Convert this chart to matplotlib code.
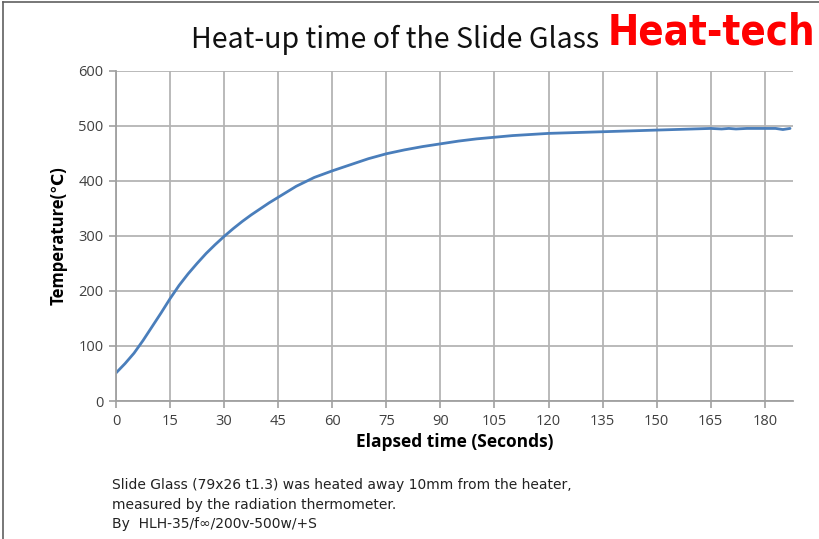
import matplotlib
matplotlib.use("Agg")
import matplotlib.pyplot as plt
from matplotlib.lines import Line2D

time_s = [0, 2.5, 5, 7.5, 10, 12.5, 15, 17.5, 20, 22.5, 25, 27.5, 30, 32.5, 35, 37.5,
          40, 42.5, 45, 47.5, 50, 52.5, 55, 57.5, 60, 65, 70, 75, 80, 85, 90, 95, 100,
          105, 110, 115, 120, 125, 130, 135, 140, 145, 150, 155, 160, 165, 168, 170,
          172, 175, 180, 183, 185, 187]
temp_c = [51, 68, 87, 110, 135, 160, 186, 210, 231, 250, 268, 284, 299, 313, 326, 338,
          349, 360, 370, 380, 390, 398, 406, 412, 418, 429, 440, 449, 456, 462, 467, 472,
          476, 479, 482, 484, 486, 487, 488, 489, 490, 491, 492, 493, 494, 495, 494, 495,
          494, 495, 495, 495, 493, 495]
x_ticks = list(range(0, 181, 15))
y_ticks = list(range(0, 601, 100))

title = "Heat-up time of the Slide Glass"
brand = "Heat-tech"
x_label = "Elapsed time (Seconds)"
y_label = "Temperature(℃)"
caption = ["Slide Glass (79x26 t1.3) was heated away 10mm from the heater,",
           "measured by the radiation thermometer.",
           "By  HLH-35/f∞/200v-500w/+S"]

fig = plt.figure(figsize=(8.2, 5.39), dpi=100)
ax = fig.add_axes([0.1415, 0.256, 0.967 - 0.1415, 0.869 - 0.256])

ax.plot(time_s, temp_c, color="#4a7ebb", lw=2.0, solid_capstyle="round")
ax.set_xlim(0, 187.8)
ax.set_ylim(0, 600)
ax.set_xticks(x_ticks)
ax.set_yticks(y_ticks)
ax.grid(True, color="#b4b4b4", lw=1.3)
ax.set_axisbelow(True)
for s in ["top", "right"]:
    ax.spines[s].set_visible(False)
for s in ["left", "bottom"]:
    ax.spines[s].set_color("#a0a0a0")
    ax.spines[s].set_linewidth(1.3)
ax.tick_params(axis="both", colors="#a0a0a0", length=5, width=1.2, labelsize=10.5,
               labelcolor="#404040", pad=4)
for lab in ax.get_xticklabels() + ax.get_yticklabels():
    lab.set_family(["Open Sans", "DejaVu Sans"])

ax.set_xlabel(x_label, fontsize=12.5, fontweight="bold", color="black",
              family=["Open Sans", "DejaVu Sans"], labelpad=3)
ax.set_ylabel(y_label, fontsize=12, fontweight="bold", color="black",
              family=["Open Sans", "DejaVu Sans"], labelpad=8)

fig.text(0.482, 0.926, title, fontsize=20.5, ha="center", va="center",
         family=["Noto Sans CJK JP", "DejaVu Sans"], color="#111111")
fig.text(0.994, 0.94, brand, fontsize=30, ha="right", va="center", fontweight="heavy",
         fontstretch="condensed", family=["DejaVu Sans"], color="#ff0000")

for i, line in enumerate(caption):
    fig.text(0.137, 0.1 - i * 0.0365, line, fontsize=10, ha="left", va="center",
             family=["DejaVu Sans"], color="#222222")

fig.add_artist(Line2D([0.004, 1.0], [0.996, 0.996], transform=fig.transFigure,
                      color="#606060", lw=1.2))
fig.add_artist(Line2D([0.004, 0.004], [0.0, 0.996], transform=fig.transFigure,
                      color="#606060", lw=1.2))

fig.savefig("out.png", dpi=100)
